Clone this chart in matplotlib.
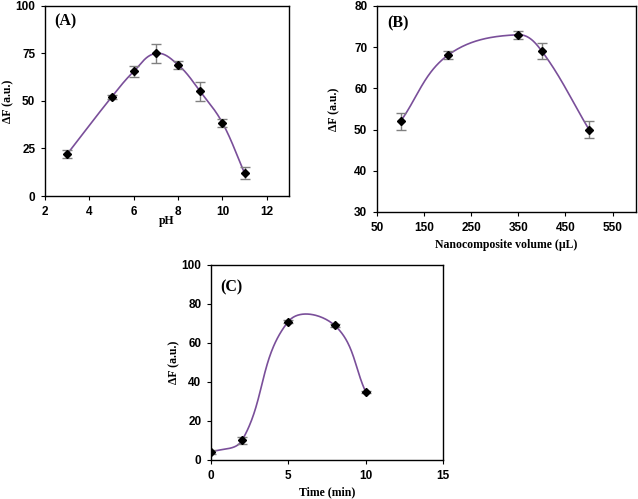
import numpy as np
import matplotlib
matplotlib.use("Agg")
import matplotlib.pyplot as plt

# Panel A
ph = [3, 5, 6, 7, 8, 9, 10, 11]
ph_dF = [22, 52, 65.5, 75, 69, 55, 38.5, 12]
ph_err = [2, 1, 3, 5, 2, 5, 2, 3]

# Panel B
vol = [100, 200, 350, 400, 500]
vol_dF = [52, 68, 73, 69, 50]
vol_err = [2, 1, 1, 2, 2]

# Panel C
time = [0, 2, 5, 8, 10]
time_dF = [4, 10, 71, 69, 35]
time_err = [1, 2, 1, 0.6, 0.6]


def smooth(x, y, sx, sy, n=60):
    # Bezier smoothing in normalized display space, tangent magnitudes scaled by chord length
    P = np.column_stack([np.asarray(x, float) / sx, np.asarray(y, float) / sy])
    m = len(P)
    T = np.zeros_like(P)
    for i in range(m):
        a = P[max(i - 1, 0)]; b = P[min(i + 1, m - 1)]
        d = b - a
        T[i] = d / (np.linalg.norm(d) + 1e-12)
    out = []
    for i in range(m - 1):
        p1, p2 = P[i], P[i + 1]
        L = np.linalg.norm(p2 - p1)
        k = 0.36
        c1 = p1 + T[i] * L * k
        c2 = p2 - T[i + 1] * L * k
        t = np.linspace(0, 1, n)[:, None]
        bz = ((1 - t) ** 3) * p1 + 3 * ((1 - t) ** 2) * t * c1 + 3 * (1 - t) * t ** 2 * c2 + t ** 3 * p2
        out.append(bz)
    bz = np.vstack(out)
    return bz[:, 0] * sx, bz[:, 1] * sy


fig = plt.figure(figsize=(6.38, 4.99), dpi=100)
labfont = dict(family="Liberation Serif", weight="bold", size=8.5)
line_c = "#7a4f9a"


def panel(rect, x, y, e, xlim, xt, ylim, yt, xlabel, tag, tagy, xlp, ylp):
    ax = fig.add_axes(rect)
    wpx = rect[2] * 638; hpx = rect[3] * 499
    sx = (xlim[1] - xlim[0]) / wpx; sy = (ylim[1] - ylim[0]) / hpx
    cx, cy = smooth(x, y, sx, sy)
    ax.plot(cx, cy, color=line_c, lw=1.2, zorder=2)
    ax.errorbar(x, y, yerr=e, fmt="D", ms=4, color="black", ecolor="#808080",
                elinewidth=1.0, capsize=3.5, capthick=1.0, zorder=3)
    ax.set_xlim(*xlim); ax.set_ylim(*ylim)
    ax.set_xticks(xt); ax.set_yticks(yt)
    ax.tick_params(direction="out", length=3, width=0.8, pad=4)
    for lab in ax.get_xticklabels() + ax.get_yticklabels():
        lab.set_fontfamily("Liberation Sans"); lab.set_fontweight("bold"); lab.set_fontsize(8.5)
    for s in ax.spines.values():
        s.set_linewidth(1.0)
    ax.set_xlabel(xlabel, fontdict=labfont, labelpad=xlp)
    ax.set_ylabel("ΔF (a.u.)", fontdict=labfont, labelpad=ylp)
    ax.text(0.04, tagy, tag, transform=ax.transAxes, family="Liberation Serif",
            weight="bold", size=11.5, va="center", ha="left")
    return ax


panel([0.0705, 0.6072, 0.3824, 0.381], ph, ph_dF, ph_err, (2, 13), [2, 4, 6, 8, 10, 12],
      (0, 100), [0, 25, 50, 75, 100], "pH", "(A)", 0.92, -2, 1)
panel([0.591, 0.5752, 0.406, 0.413], vol, vol_dF, vol_err, (50, 600), [50, 150, 250, 350, 450, 550],
      (30, 80), [30, 40, 50, 60, 70, 80], "Nanocomposite volume (µL)", "(B)", 0.917, 3.5, 10)
panel([0.3307, 0.0782, 0.3636, 0.3908], time, time_dF, time_err, (0, 15), [0, 5, 10, 15],
      (0, 100), [0, 20, 40, 60, 80, 100], "Time (min)", "(C)", 0.887, 3, 1)

fig.savefig("out.png", dpi=100)
